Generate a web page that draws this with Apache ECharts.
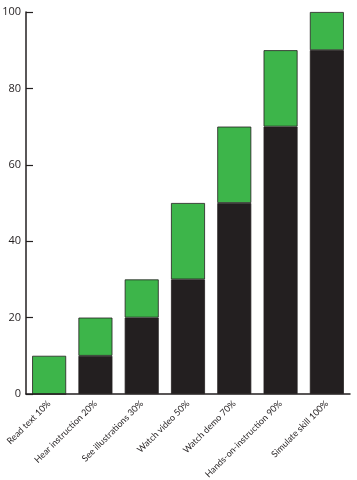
<!DOCTYPE html>
<html><head><meta charset="utf-8">
<script src="https://cdn.jsdelivr.net/npm/echarts@6/dist/echarts.min.js"></script>
<style>html,body{margin:0;padding:0;background:#fff}#c{width:357px;height:480px}</style>
</head><body><div id="c"></div>
<script>
const categories = ["Read text 10%","Hear instruction 20%","See illustrations 30%","Watch video 50%","Watch demo 70%","Hands-on-instruction 90%","Simulate skill 100%"];
const baseValues = [0,10,20,30,50,70,90];
const totalValues = [10,20,30,50,70,90,100];
const yTicks = [0,20,40,60,80,100];
const increments = totalValues.map((v,i)=>v-baseValues[i]);
const chart = echarts.init(document.getElementById('c'));
chart.setOption({
  animation:false,
  grid:{left:26,right:7,top:12,bottom:86,containLabel:false,outerBoundsMode:'none'},
  xAxis:{type:'category',data:categories,
    axisLine:{lineStyle:{color:'#231f20',width:1.5}},
    axisTick:{inside:true,length:7,lineStyle:{color:'#231f20',width:1.2}},
    axisLabel:{rotate:45,fontSize:9,color:'#231f20',margin:8,interval:0,fontFamily:'Lato'}},
  yAxis:{type:'value',min:0,max:100,interval:20,
    axisLine:{show:true,lineStyle:{color:'#231f20',width:1.5}},
    axisTick:{show:true,inside:true,length:7,lineStyle:{color:'#231f20',width:1.2}},
    splitLine:{show:false},
    axisLabel:{fontSize:11,color:'#231f20',margin:5,fontFamily:'Open Sans',
      formatter:v=>yTicks.includes(v)?String(v):''}},
  series:[
    {type:'bar',stack:'s',data:baseValues,barWidth:34,itemStyle:{color:'#231f20',borderColor:'#231f20',borderWidth:0.8}},
    {type:'bar',stack:'s',data:increments,barWidth:34,itemStyle:{color:'#3db54a',borderColor:'#231f20',borderWidth:0.8}}
  ]
});
</script></body></html>
